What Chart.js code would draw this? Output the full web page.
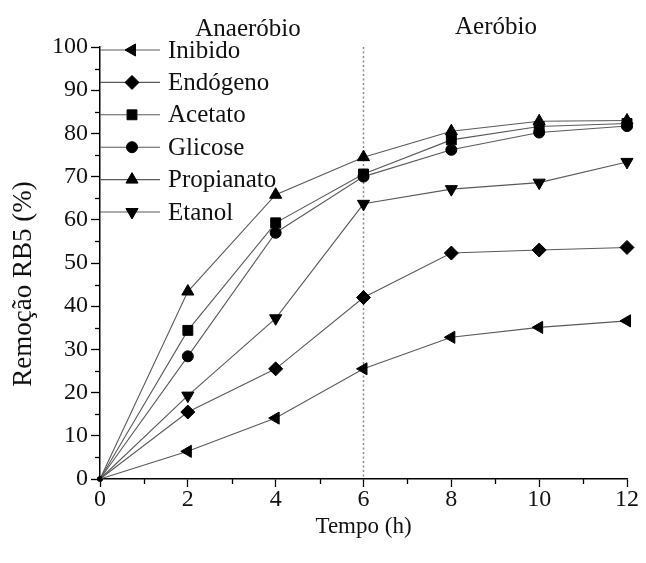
<!DOCTYPE html>
<html>
<head>
<meta charset="utf-8">
<script src="https://cdn.jsdelivr.net/npm/chart.js@4.4.0/dist/chart.umd.min.js"></script>
<style>
  html, body { margin: 0; padding: 0; background: #fff; }
  #wrap { width: 646px; height: 563px; }
</style>
</head>
<body>
<div id="wrap"><canvas id="c" width="646" height="563"></canvas></div>
<script>
// ---- data ----
const tempo = [0, 2, 4, 6, 8, 10, 12];
const inibido    = [0, 6.4, 14.1, 25.5, 32.8, 35.1, 36.6];
const endogeno   = [0, 15.5, 25.5, 42.0, 52.3, 53.0, 53.6];
const acetato    = [0, 34.4, 59.3, 70.6, 78.5, 81.6, 82.3];
const glicose    = [0, 28.4, 57.0, 70.0, 76.2, 80.2, 81.7];
const propianato = [0, 43.4, 65.8, 74.5, 80.5, 82.8, 83.0];
const etanol     = [0, 19.3, 37.2, 63.7, 67.1, 68.6, 73.4];
const seriesNames = ['Inibido', 'Endógeno', 'Acetato', 'Glicose', 'Propianato', 'Etanol'];
const xTicks = [0, 2, 4, 6, 8, 10, 12];
const yTicks = [0, 10, 20, 30, 40, 50, 60, 70, 80, 90, 100];
const phaseLabels = ['Anaeróbio', 'Aeróbio'];
const phaseBoundary = 6;
const xTitle = 'Tempo (h)';
const yTitle = 'Remoção RB5 (%)';

const SERIF = '"Liberation Serif", "Times New Roman", Times, serif';

function toXY(vals) { return vals.map((v, i) => ({x: tempo[i], y: v})); }

const styles = [
  {pointStyle: 'triangle', rotation: -90, r: 7},
  {pointStyle: 'rectRot', rotation: 0, r: 7},
  {pointStyle: 'rect', rotation: 0, r: 7},
  {pointStyle: 'circle', rotation: 0, r: 5.5},
  {pointStyle: 'triangle', rotation: 0, r: 7},
  {pointStyle: 'triangle', rotation: 180, r: 7},
];
const allData = [inibido, endogeno, acetato, glicose, propianato, etanol];

const datasets = allData.map((d, i) => ({
  label: seriesNames[i],
  data: toXY(d),
  borderColor: '#5a5a5a',
  borderWidth: 1.1,
  backgroundColor: '#000',
  pointBackgroundColor: '#000',
  pointBorderColor: '#000',
  pointBorderWidth: 1,
  pointStyle: styles[i].pointStyle,
  pointRotation: styles[i].rotation,
  pointRadius: (ctx) => ctx.dataIndex === 0 ? 2.5 : styles[i].r,
  pointHoverRadius: styles[i].r,
  tension: 0,
  fill: false,
  clip: false,
}));

const extras = {
  id: 'extras',
  beforeDatasetsDraw(chart) {
    const {ctx, chartArea, scales} = chart;
    const x = scales.x;
    ctx.save();
    const px = x.getPixelForValue(phaseBoundary);
    ctx.strokeStyle = '#8a8a8a';
    ctx.lineWidth = 1.5;
    ctx.setLineDash([2, 2.5]);
    ctx.beginPath();
    ctx.moveTo(px, chartArea.top);
    ctx.lineTo(px, chartArea.bottom);
    ctx.stroke();
    ctx.setLineDash([]);
    ctx.restore();
  },
  afterDraw(chart) {
    const {ctx, chartArea, scales} = chart;
    const x = scales.x, y = scales.y;
    ctx.save();
    ctx.strokeStyle = '#000';
    ctx.lineWidth = 1.3;
    // minor y ticks (outward)
    for (let v = 5; v < 100; v += 10) {
      const py = Math.round(y.getPixelForValue(v)) + 0.5;
      ctx.beginPath();
      ctx.moveTo(chartArea.left - 5, py);
      ctx.lineTo(chartArea.left, py);
      ctx.stroke();
    }
    // minor x ticks (outward)
    for (let v = 1; v < 12; v += 2) {
      const pxv = Math.round(x.getPixelForValue(v)) + 0.5;
      ctx.beginPath();
      ctx.moveTo(pxv, chartArea.bottom);
      ctx.lineTo(pxv, chartArea.bottom + 5);
      ctx.stroke();
    }
    // y title
    ctx.fillStyle = '#111';
    ctx.save();
    ctx.translate(24, 284);
    ctx.rotate(-Math.PI / 2);
    ctx.font = '27px ' + SERIF;
    ctx.textAlign = 'center';
    ctx.textBaseline = 'middle';
    ctx.fillText(yTitle, 0, 0);
    ctx.restore();
    // phase labels
    ctx.font = '25px ' + SERIF;
    ctx.textAlign = 'center';
    ctx.textBaseline = 'alphabetic';
    ctx.fillText(phaseLabels[0], 248, 36);
    ctx.fillText(phaseLabels[1], 496, 34);
    // legend
    const legendY0 = 50, legendDy = 32.4;
    const lineX0 = chartArea.left, lineX1 = 160, markX = 132, textX = 168;
    chart.data.datasets.forEach((ds, i) => {
      const ly = legendY0 + i * legendDy;
      ctx.strokeStyle = '#5a5a5a';
      ctx.lineWidth = 1.1;
      ctx.beginPath();
      ctx.moveTo(lineX0, ly);
      ctx.lineTo(lineX1, ly);
      ctx.stroke();
      ctx.fillStyle = '#000';
      ctx.strokeStyle = '#000';
      ctx.lineWidth = 1;
      Chart.helpers.drawPoint(ctx, {
        pointStyle: styles[i].pointStyle,
        rotation: styles[i].rotation,
        radius: styles[i].r,
        borderWidth: 1
      }, markX, ly);
      ctx.fillStyle = '#111';
      ctx.font = '25px ' + SERIF;
      ctx.textAlign = 'left';
      ctx.textBaseline = 'middle';
      ctx.fillText(ds.label, textX, ly + 1);
    });
    ctx.restore();
  }
};

new Chart(document.getElementById('c'), {
  type: 'line',
  data: { datasets },
  options: {
    responsive: false,
    animation: false,
    events: [],
    layout: { padding: { left: 0, right: 19, top: 47, bottom: 0 } },
    plugins: { legend: { display: false }, tooltip: { enabled: false } },
    scales: {
      x: {
        type: 'linear',
        min: 0, max: 12,
        afterFit(s) { s.height = 84; },
        afterBuildTicks(s) { s.ticks = xTicks.map(v => ({value: v})); },
        grid: { display: true, drawOnChartArea: false, drawTicks: true, tickLength: 8, color: '#000', tickWidth: 1.3 },
        border: { display: true, color: '#000', width: 1.5 },
        ticks: { color: '#111', font: { family: SERIF, size: 24 }, padding: -2, maxRotation: 0 },
        title: { display: true, text: xTitle, color: '#111', font: { family: SERIF, size: 23 }, padding: { top: 0, bottom: 22 } }
      },
      y: {
        type: 'linear',
        min: 0, max: 100,
        afterFit(s) { s.width = 100; },
        afterBuildTicks(s) { s.ticks = yTicks.map(v => ({value: v})); },
        grid: { display: true, drawOnChartArea: false, drawTicks: true, tickLength: 9, color: '#000', tickWidth: 1.3 },
        border: { display: true, color: '#000', width: 1.5 },
        ticks: { color: '#111', font: { family: SERIF, size: 24 }, padding: 3 },
        title: { display: false }
      }
    }
  },
  plugins: [extras]
});
</script>
</body>
</html>
